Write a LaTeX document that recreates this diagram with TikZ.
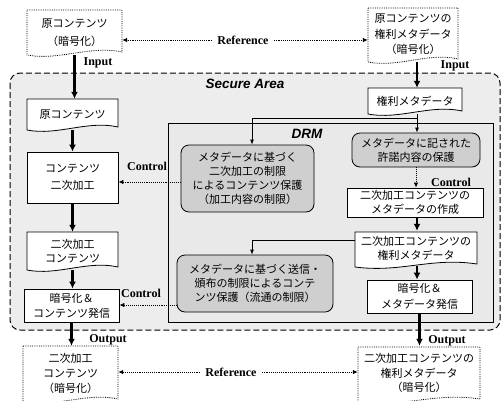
\documentclass[tikz,border=0pt]{standalone}
\usepackage{fontspec}
\setmainfont{Liberation Serif}
\setsansfont{Liberation Sans}
\newfontfamily\jp{Noto Sans CJK JP}
\usetikzlibrary{arrows.meta,calc}
\newcommand\docshape[5][]{%
  \filldraw[#1] (#2,#3) -- (#4,#3) -- (#4,{#5-3})
   .. controls ({(#2+#4)/2+15},{#5-10}) and ({(#2+#4)/2-15},{#5+6}) .. (#2,#5) -- cycle;}
\begin{document}
\begin{tikzpicture}[x=1pt,y=-1pt,
  jptext/.style={font=\jp\fontsize{11}{15}\selectfont, align=center, inner sep=0pt},
  sqbox/.style={jptext, draw=black, fill=white, line width=0.8pt},
  rbox/.style={jptext, draw=black, fill=gray!38, rounded corners=8pt, line width=0.8pt},
  docline/.style={draw=black, fill=white, line width=0.8pt},
  outdoc/.style={draw=black, fill=white, line width=0.8pt, densely dotted},
  bigarrow/.style={line width=2.4pt, -{Latex[length=7pt,width=7pt]}},
  thinarrow/.style={line width=0.8pt, -{Latex[length=5pt,width=4pt]}},
  dotarrow/.style={line width=0.9pt, densely dotted, -{Latex[length=5pt,width=4.5pt]}},
  lbl/.style={font=\bfseries\fontsize{12}{12}\selectfont, inner sep=0pt},
  title/.style={font=\sffamily\bfseries\itshape\fontsize{13.5}{14}\selectfont, inner sep=0pt},
]
\useasboundingbox (0,0) rectangle (502,400);
% areas
\draw[line width=1pt, dash pattern=on 6pt off 3pt, rounded corners=10pt, fill=gray!14] (10,73) rectangle (500,330);
\draw[line width=0.8pt, fill=gray!17] (168,123) rectangle (493,322);
\node[title] (sa) at (245,84) {Secure Area};
\node[title] (drm) at (307,134) {DRM};

% document shapes
\docshape[outdoc]{27}{10}{122}{55}
\docshape[outdoc]{368}{8}{458}{62}
\docshape[docline]{27}{99}{118}{130}
\docshape[docline]{368}{88}{462}{114}
\docshape[docline]{27}{232}{118}{270}
\docshape[docline]{355}{232}{477}{267}
\docshape[outdoc]{23}{346}{118}{402}
\docshape[outdoc]{358}{347}{480}{402}

% nodes
\node[jptext, minimum width=95pt, minimum height=45pt, font=\jp\fontsize{11}{18}\selectfont] (tl) at (74.5,32.5) {原コンテンツ\\（暗号化）};
\node[jptext, minimum width=90pt, minimum height=54pt, font=\jp\fontsize{11}{15.5}\selectfont] (tr) at (413,34.5) {原コンテンツの\\権利メタデータ\\（暗号化）};
\node[jptext, minimum width=91pt, minimum height=31pt] (c1) at (72.5,114.5) {原コンテンツ};
\node[jptext, minimum width=94pt, minimum height=26pt] (r1) at (415,101) {権利メタデータ};
\node[sqbox, minimum width=91pt, minimum height=51pt, font=\jp\fontsize{11}{17}\selectfont] (c2) at (72.5,177.5) {コンテンツ\\二次加工};
\node[jptext, minimum width=91pt, minimum height=38pt, font=\jp\fontsize{11}{14}\selectfont] (c3) at (72.5,251) {二次加工\\コンテンツ};
\node[sqbox, minimum width=95pt, minimum height=33pt] (c4) at (71.5,305.5) {暗号化＆\\コンテンツ発信};
\node[jptext, minimum width=95pt, minimum height=54pt, font=\jp\fontsize{11}{15}\selectfont] (c5) at (70.5,373) {二次加工\\コンテンツ\\（暗号化）};
\node[rbox, minimum width=128pt, minimum height=34pt, font=\jp\fontsize{11}{14}\selectfont] (rd1) at (416,150) {メタデータに記された\\許諾内容の保護};
\node[sqbox, minimum width=136pt, minimum height=29pt, font=\jp\fontsize{11}{14}\selectfont] (r2) at (415,202.5) {二次加工コンテンツの\\メタデータの作成};
\node[jptext, minimum width=122pt, minimum height=35pt, font=\jp\fontsize{11}{14}\selectfont] (r3) at (416,248.5) {二次加工コンテンツの\\権利メタデータ};
\node[sqbox, minimum width=105pt, minimum height=33pt, font=\jp\fontsize{11}{16}\selectfont] (r4) at (419.5,296.5) {暗号化＆\\メタデータ発信};
\node[jptext, minimum width=122pt, minimum height=54pt, font=\jp\fontsize{11}{14.5}\selectfont] (r5) at (419,373) {二次加工コンテンツの\\権利メタデータ\\（暗号化）};
\node[rbox, minimum width=133pt, minimum height=67pt, font=\jp\fontsize{11}{14}\selectfont] (ld1) at (247.5,178.5) {メタデータに基づく\\二次加工の制限\\によるコンテンツ保護\\（加工内容の制限）};
\node[rbox, minimum width=156pt, minimum height=57pt, font=\jp\fontsize{11}{14}\selectfont] (ld2) at (255,283.5) {メタデータに基づく送信・\\頒布の制限によるコンテ\\ンツ保護（流通の制限）};

% labels
\node[lbl] (inL) at (98,63) {Input};
\node[lbl] (inR) at (455,66) {Input};
\node[lbl] (outL) at (108,340) {Output};
\node[lbl] (outR) at (447,341) {Output};
\node[lbl] (ctl1) at (147,166) {Control};
\node[lbl] (ctl2) at (451,182) {Control};
\node[lbl] (ctl3) at (141,293) {Control};
\node[lbl] (ref1) at (243,40) {Reference};
\node[lbl] (ref2) at (231,372) {Reference};

% thick flow arrows
\draw[bigarrow] (tl.south) -- (tl.south |- c1.north);
\draw[bigarrow] (c1.south) -- (c1.south |- c2.north);
\draw[bigarrow] (c2.south) -- (c2.south |- c3.north);
\draw[bigarrow] (c3.south) -- (c3.south |- c4.north);
\draw[bigarrow] (c4.south) -- (c4.south |- c5.north);
\draw[bigarrow] ([xshift=4pt]tr.south) -- ([xshift=4pt]tr.south |- r1.north);
\draw[bigarrow] ([xshift=2pt]r2.south) -- ([xshift=2pt]r2.south |- r3.north);
\draw[bigarrow] ([xshift=1pt]r3.south) -- ([xshift=1pt]r3.south |- r4.north);
\draw[bigarrow] (r4.south) -- (r4.south |- r5.north);

% thin branch arrows
\draw[thinarrow] ([xshift=2pt]r1.south) -- ([xshift=2pt]r1.south |- rd1.north);
\coordinate (br1) at ($(r1.south)+(2,4)$);
\draw[line width=0.8pt, -{Latex[length=5pt,width=4pt]}] (br1) -| ([xshift=4.5pt]ld1.north);
\draw[thinarrow] ([yshift=8pt]r3.west) -| ([xshift=-3pt]ld2.north);

% control arrows
\draw[dotarrow] (rd1.south) -- (rd1.south |- r2.north);
\draw[dotarrow] ([yshift=-3.5pt]ld1.west) -- ([yshift=-3.5pt]ld1.west -| c2.east);
\draw[dotarrow] ([yshift=-21.5pt]ld2.west) -- ([yshift=-21.5pt]ld2.west -| c4.east);

% reference arrows
\draw[dotarrow] ([xshift=-5pt]ref1.west) -- (ref1.west -| tl.east);
\draw[dotarrow] ([xshift=5pt]ref1.east) -- (ref1.east -| tr.west);
\draw[dotarrow] ([xshift=-5pt]ref2.west) -- (ref2.west -| c5.east);
\draw[dotarrow] ([xshift=5pt]ref2.east) -- (ref2.east -| r5.west);
\end{tikzpicture}
\end{document}
